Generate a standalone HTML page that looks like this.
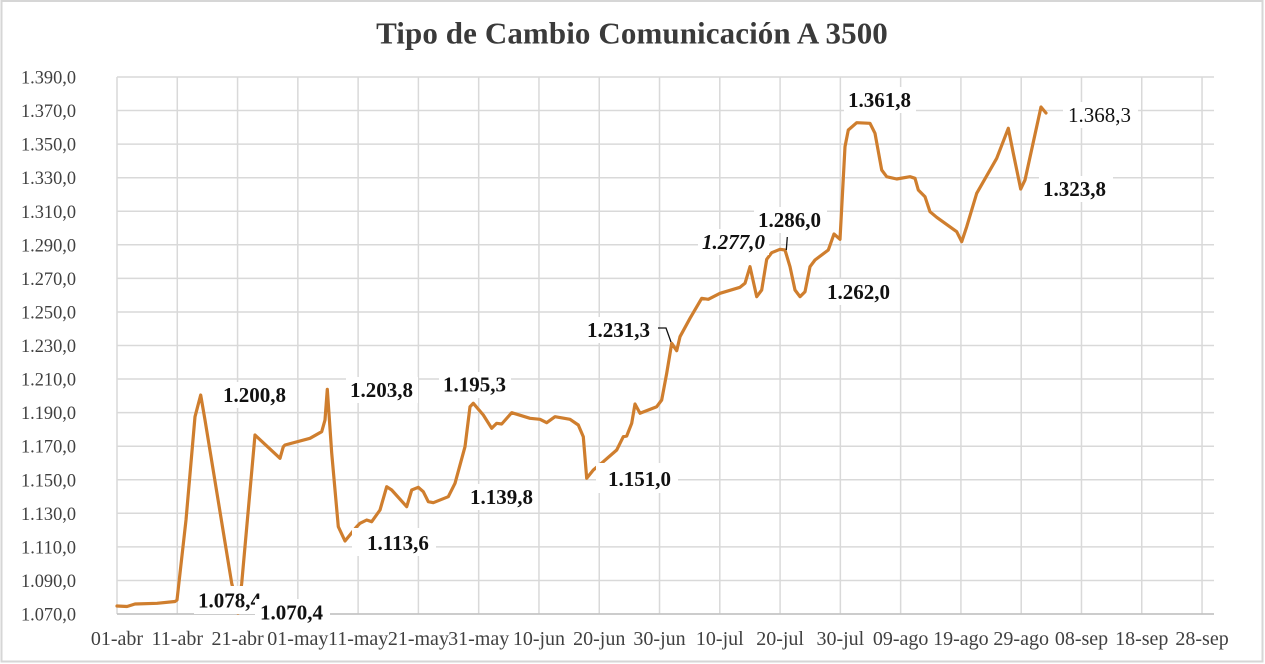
<!DOCTYPE html>
<html>
<head>
<meta charset="utf-8">
<style>
  html,body{margin:0;padding:0;background:#fff;}
  svg{display:block;}
  .yl{font-family:"Liberation Serif",serif;font-size:19px;fill:#404040;}
  .xl{font-family:"Liberation Serif",serif;font-size:20px;fill:#404040;}
  .dl{font-family:"Liberation Serif",serif;font-size:21px;font-weight:bold;fill:#111;}
</style>
</head>
<body>
<svg width="1265" height="664" viewBox="0 0 1265 664" xmlns="http://www.w3.org/2000/svg">
  <rect x="0" y="0" width="1265" height="664" fill="#fff"/>
  <rect x="1.5" y="1" width="1261" height="660.5" fill="none" stroke="#d6d6d6" stroke-width="2"/>

  <text x="632" y="43.5" text-anchor="middle" font-family="Liberation Serif, serif" font-size="31" font-weight="bold" fill="#3a3a3a" letter-spacing="0.1">Tipo de Cambio Comunicación A 3500</text>

  <!-- horizontal gridlines -->
  <g stroke="#d9d9d9" stroke-width="1.5">
    <line x1="117" y1="77" x2="1214" y2="77"/>
    <line x1="117" y1="110.56" x2="1214" y2="110.56"/>
    <line x1="117" y1="144.13" x2="1214" y2="144.13"/>
    <line x1="117" y1="177.69" x2="1214" y2="177.69"/>
    <line x1="117" y1="211.25" x2="1214" y2="211.25"/>
    <line x1="117" y1="244.81" x2="1214" y2="244.81"/>
    <line x1="117" y1="278.38" x2="1214" y2="278.38"/>
    <line x1="117" y1="311.94" x2="1214" y2="311.94"/>
    <line x1="117" y1="345.5" x2="1214" y2="345.5"/>
    <line x1="117" y1="379.06" x2="1214" y2="379.06"/>
    <line x1="117" y1="412.63" x2="1214" y2="412.63"/>
    <line x1="117" y1="446.19" x2="1214" y2="446.19"/>
    <line x1="117" y1="479.75" x2="1214" y2="479.75"/>
    <line x1="117" y1="513.31" x2="1214" y2="513.31"/>
    <line x1="117" y1="546.88" x2="1214" y2="546.88"/>
    <line x1="117" y1="580.44" x2="1214" y2="580.44"/>
  </g>
  <!-- vertical gridlines -->
  <g stroke="#d9d9d9" stroke-width="1.5">
    <line x1="117" y1="77" x2="117" y2="614"/>
    <line x1="177.28" y1="77" x2="177.28" y2="614"/>
    <line x1="237.56" y1="77" x2="237.56" y2="614"/>
    <line x1="297.84" y1="77" x2="297.84" y2="614"/>
    <line x1="358.12" y1="77" x2="358.12" y2="614"/>
    <line x1="418.4" y1="77" x2="418.4" y2="614"/>
    <line x1="478.68" y1="77" x2="478.68" y2="614"/>
    <line x1="538.96" y1="77" x2="538.96" y2="614"/>
    <line x1="599.24" y1="77" x2="599.24" y2="614"/>
    <line x1="659.52" y1="77" x2="659.52" y2="614"/>
    <line x1="719.8" y1="77" x2="719.8" y2="614"/>
    <line x1="780.08" y1="77" x2="780.08" y2="614"/>
    <line x1="840.36" y1="77" x2="840.36" y2="614"/>
    <line x1="900.64" y1="77" x2="900.64" y2="614"/>
    <line x1="960.92" y1="77" x2="960.92" y2="614"/>
    <line x1="1021.2" y1="77" x2="1021.2" y2="614"/>
    <line x1="1081.48" y1="77" x2="1081.48" y2="614"/>
    <line x1="1141.76" y1="77" x2="1141.76" y2="614"/>
    <line x1="1202.04" y1="77" x2="1202.04" y2="614"/>
  </g>
  <!-- x axis -->
  <line x1="117" y1="614" x2="1214" y2="614" stroke="#c4c4c4" stroke-width="1.8"/>

  <!-- y labels -->
  <g class="yl">
    <text x="21" y="83.5" textLength="55" lengthAdjust="spacingAndGlyphs">1.390,0</text>
    <text x="21" y="117.06" textLength="55" lengthAdjust="spacingAndGlyphs">1.370,0</text>
    <text x="21" y="150.63" textLength="55" lengthAdjust="spacingAndGlyphs">1.350,0</text>
    <text x="21" y="184.19" textLength="55" lengthAdjust="spacingAndGlyphs">1.330,0</text>
    <text x="21" y="217.75" textLength="55" lengthAdjust="spacingAndGlyphs">1.310,0</text>
    <text x="21" y="251.31" textLength="55" lengthAdjust="spacingAndGlyphs">1.290,0</text>
    <text x="21" y="284.88" textLength="55" lengthAdjust="spacingAndGlyphs">1.270,0</text>
    <text x="21" y="318.44" textLength="55" lengthAdjust="spacingAndGlyphs">1.250,0</text>
    <text x="21" y="352" textLength="55" lengthAdjust="spacingAndGlyphs">1.230,0</text>
    <text x="21" y="385.56" textLength="55" lengthAdjust="spacingAndGlyphs">1.210,0</text>
    <text x="21" y="419.13" textLength="55" lengthAdjust="spacingAndGlyphs">1.190,0</text>
    <text x="21" y="452.69" textLength="55" lengthAdjust="spacingAndGlyphs">1.170,0</text>
    <text x="21" y="486.25" textLength="55" lengthAdjust="spacingAndGlyphs">1.150,0</text>
    <text x="21" y="519.81" textLength="55" lengthAdjust="spacingAndGlyphs">1.130,0</text>
    <text x="21" y="553.38" textLength="55" lengthAdjust="spacingAndGlyphs">1.110,0</text>
    <text x="21" y="586.94" textLength="55" lengthAdjust="spacingAndGlyphs">1.090,0</text>
    <text x="21" y="620.5" textLength="55" lengthAdjust="spacingAndGlyphs">1.070,0</text>
  </g>

  <!-- x labels -->
  <g class="xl" text-anchor="middle">
    <text x="117" y="645">01-abr</text>
    <text x="177.28" y="645">11-abr</text>
    <text x="237.56" y="645">21-abr</text>
    <text x="297.84" y="645">01-may</text>
    <text x="358.12" y="645">11-may</text>
    <text x="418.4" y="645">21-may</text>
    <text x="478.68" y="645">31-may</text>
    <text x="538.96" y="645">10-jun</text>
    <text x="599.24" y="645">20-jun</text>
    <text x="659.52" y="645">30-jun</text>
    <text x="719.8" y="645">10-jul</text>
    <text x="780.08" y="645">20-jul</text>
    <text x="840.36" y="645">30-jul</text>
    <text x="900.64" y="645">09-ago</text>
    <text x="960.92" y="645">19-ago</text>
    <text x="1021.2" y="645">29-ago</text>
    <text x="1081.48" y="645">08-sep</text>
    <text x="1141.76" y="645">18-sep</text>
    <text x="1202.04" y="645">28-sep</text>
  </g>

  <!-- series -->
  <polyline fill="none" stroke="#CF7E2E" stroke-width="3.2" stroke-linejoin="round" stroke-linecap="round"
    points="117,606 127,606.5 135,604 157,603.3 175,601.5 177,600 186,520 195,416.7 200.7,395 205,420 231.7,583.3 236,600 238,613 241.7,583.3 255,435 280,458.3 283.3,446.7 285,445 310,438.3 321.7,431.7 325,420 327.3,389.3 331.7,453 338.3,526.7 345,541 356.7,526.7 360,523.3 366.7,520 371.7,521.7 380,510 386.7,486.7 391.7,490 406.7,506.7 411.7,490 418.3,487.3 423.3,491.7 428.3,501.7 433.3,502.7 448.3,496.7 455,483.3 465,446.7 470,406.7 473.3,403.3 483.3,415 491.7,428.3 496.7,423.3 501.7,424 511.7,412.7 530,418.3 540,419.3 546.7,422.7 555,416.7 570,419.3 578.3,425 583.3,436.7 586.7,478.3 593.3,470 603.3,461.7 616.7,450 623.3,436.7 626.7,436 631.7,423.3 635,404 640,413.3 656.7,406.7 661.7,400 666.7,373.3 671.7,343.3 676.7,350.7 680,336.7 690,318.3 701.7,298.3 708.3,299.3 720,293.3 740,287.3 745,283.3 750,266.7 756.7,296.7 761.7,290 766.7,259.3 771.7,252.7 780,249.3 785,250 790,266.7 795,290 800,296.7 805,291.7 810,266.7 815,260 828.3,250 834,234 840,239.3 845,146.7 848.3,130 856.7,122.7 870,123.3 875,133.3 881.7,170 886.7,176.7 896.7,179 910,176.7 915,178.3 918.3,190 925,196.7 930,211.7 936.7,217.3 956.7,231.7 961.7,241.7 966.7,226.7 976.7,193.3 996.7,158.3 1008.3,128.3 1013.3,153.3 1020.7,189 1025,180 1041,107 1046,113"/>

  <!-- label boxes -->
  <g fill="#fff">
    <rect x="218" y="382" width="74" height="26"/>
    <rect x="346" y="377" width="72" height="26"/>
    <rect x="439" y="372" width="72" height="26"/>
    <rect x="352" y="528" width="84" height="28"/>
    <rect x="466" y="484" width="72" height="26"/>
    <rect x="596" y="463" width="82" height="30"/>
    <rect x="194" y="586" width="72" height="28"/>
    <rect x="582" y="317" width="74" height="26"/>
    <rect x="698" y="229" width="71" height="26"/>
    <rect x="754" y="207" width="73" height="26"/>
    <rect x="822" y="279" width="73" height="26"/>
    <rect x="844" y="87" width="72" height="26"/>
    <rect x="1063" y="102" width="75" height="26"/>
    <rect x="1039" y="176" width="74" height="26"/>
  </g>

  <g class="dl">
    <text x="223" y="402">1.200,8</text>
    <text x="350" y="397">1.203,8</text>
    <text x="443" y="391.5">1.195,3</text>
    <text x="367" y="550">1.113,6</text>
    <text x="470" y="504">1.139,8</text>
    <text x="608" y="486">1.151,0</text>
    <text x="198" y="607.5">1.078,4</text>
    <text x="587" y="337">1.231,3</text>
    <text x="702" y="249" font-style="italic">1.277,0</text>
    <text x="758" y="227">1.286,0</text>
    <text x="827" y="299">1.262,0</text>
    <text x="848" y="107">1.361,8</text>
    <text x="1068" y="122" font-weight="normal">1.368,3</text>
    <text x="1043" y="196">1.323,8</text>
  </g>

  <!-- 1.070,4 label on top -->
  <rect x="255" y="599" width="75" height="27" fill="#fff"/>
  <text class="dl" x="260" y="619.5">1.070,4</text>

  <!-- leader lines -->
  <polyline points="658,328 666,328 671,342" fill="none" stroke="#111" stroke-width="1.3"/>
  <line x1="787.3" y1="237" x2="786.3" y2="250" stroke="#111" stroke-width="1.3"/>
</svg>
</body>
</html>
